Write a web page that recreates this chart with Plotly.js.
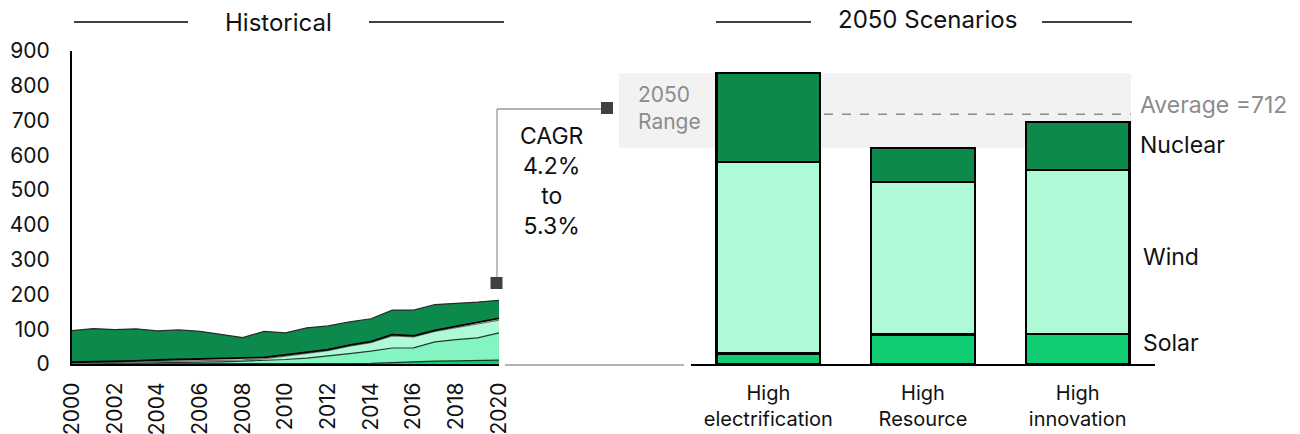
<!DOCTYPE html>
<html>
<head>
<meta charset="utf-8">
<script src="https://cdn.plot.ly/plotly-3.0.1.min.js"></script>
<style>
  html, body { margin: 0; padding: 0; background: #ffffff; }
  #chart { width: 1300px; height: 434px; }
</style>
</head>
<body>
<div id="chart"></div>
<script>
// Historical generation, stacked by source (2000-2020)
const years = [2000,2001,2002,2003,2004,2005,2006,2007,2008,2009,2010,2011,2012,2013,2014,2015,2016,2017,2018,2019,2020];
const histSolar   = [0,0,0,0,0,0,0,0,0,0,0,0,0,0.5,2,4,7,8,9,10,11];
const histWind    = [0.5,1,1.5,2,3,3.5,4.5,6,8,10,13,17,22.5,29.5,35,42,39.5,55.5,61,65,78.5];
const histOtherRe = [1.5,2,2.5,3,4,4.5,4.5,4,4,5,9.5,13,16,21,24,35,31.5,30.5,35.5,40,36.5];
const histOther   = [3,3,3.5,4,4.5,5,5,5,4.5,4,3.5,3,3,3,3.5,3.5,3,3,3,3,5];
const histNuclear = [91,96,91.5,92,83.5,85,80,69,59.5,75,63.5,71,68,67,65.5,70.5,74,74,65.5,60,52];
const yearTicks   = [2000,2002,2004,2006,2008,2010,2012,2014,2016,2018,2020];

// 2050 scenarios
const scenarios   = ['High<br>electrification', 'High<br>Resource', 'High<br>innovation'];
const solar2050   = [30, 84, 86];
const wind2050    = [546, 435, 468];
const nuclear2050 = [253, 98, 137];

const cagrLow = 4.2, cagrHigh = 5.3;

const totals2050 = scenarios.map((_, i) => solar2050[i] + wind2050[i] + nuclear2050[i]);
const avg2050 = totals2050.reduce((a, b) => a + b, 0) / totals2050.length;
const min2050 = Math.min(...totals2050);
const max2050 = Math.max(...totals2050);

// page geometry helpers (pixel -> paper)
const W = 1300, TOP = 51, BOT = 364;
const px = x => x / W;
const py = y => (BOT - y) / (BOT - TOP);

const C = {
  solar: '#10cc73',
  windHist: '#84f5c2',
  wind: '#aef9d6',
  other: '#ffffff',
  nuclear: '#0b8a4c',
  grey: '#8c8c8c',
  band: '#f2f2f2',
  marker: '#404040'
};

const FONT = 'Inter, "Noto Sans", "DejaVu Sans", sans-serif';

function area(name, y, fill, lineColor, lineWidth) {
  return {
    type: 'scatter', mode: 'lines', name: name,
    x: years, y: y, stackgroup: 'hist',
    fillcolor: fill,
    line: { color: lineColor, width: lineWidth, shape: 'linear' },
    xaxis: 'x', yaxis: 'y', hoverinfo: 'x+y+name', showlegend: false
  };
}

function bar(name, y, color) {
  return {
    type: 'bar', name: name, x: scenarios, y: y,
    marker: { color: color, line: { color: '#000000', width: 2.2 } },
    xaxis: 'x2', yaxis: 'y2', showlegend: false
  };
}

const data = [
  area('Solar', histSolar, C.solar, '#0a3d22', 1.2),
  area('Wind', histWind, C.windHist, '#1f3a2c', 1.2),
  area('Other renewables', histOtherRe, C.wind, '#6f6f6f', 1.2),
  area('Other', histOther, C.other, '#000000', 1.8),
  area('Nuclear', histNuclear, C.nuclear, '#2b2b2b', 1.2),
  bar('Solar', solar2050, C.solar),
  bar('Wind', wind2050, C.wind),
  bar('Nuclear', nuclear2050, C.nuclear)
];

function hline(x0, x1, y, color, width, dash) {
  return { type: 'line', xref: 'paper', yref: 'paper', x0: px(x0), x1: px(x1), y0: py(y), y1: py(y),
           line: { color: color, width: width, dash: dash || 'solid' } };
}
function vline(x, y0, y1, color, width) {
  return { type: 'line', xref: 'paper', yref: 'paper', x0: px(x), x1: px(x), y0: py(y0), y1: py(y1),
           line: { color: color, width: width } };
}
function square(cx, cy, s) {
  return { type: 'rect', xref: 'paper', yref: 'paper',
           x0: px(cx - s / 2), x1: px(cx + s / 2), y0: py(cy + s / 2), y1: py(cy - s / 2),
           fillcolor: C.marker, line: { width: 0 } };
}

const shapes = [
  // 2050 range band and average line (behind bars)
  { type: 'rect', xref: 'paper', yref: 'y2', x0: px(619), x1: px(1131), y0: min2050, y1: max2050,
    fillcolor: C.band, line: { width: 0 }, layer: 'below' },
  { type: 'line', xref: 'paper', yref: 'y2', x0: px(770), x1: px(1131), y0: avg2050, y1: avg2050,
    line: { color: C.grey, width: 1.5, dash: 'dash' }, layer: 'below' },
  // section header rules
  hline(74, 188, 22, '#000000', 1.3),
  hline(369, 504, 22, '#000000', 1.3),
  hline(716, 811, 22, '#000000', 1.3),
  hline(1042, 1132, 22, '#000000', 1.3),
  // CAGR connector
  vline(497, 283, 109, '#9a9a9a', 1.3),
  hline(497, 605, 109, '#9a9a9a', 1.3),
  square(496.5, 283, 12),
  square(607, 108, 12),
  // link between panels
  hline(505, 684, 365, '#9a9a9a', 1.3)
];

function label(text, x, y, opts) {
  return Object.assign({
    text: text, xref: 'paper', yref: 'paper', x: px(x), y: py(y),
    xanchor: 'center', yanchor: 'middle', showarrow: false,
    font: { family: FONT, size: 23, color: '#111111' }
  }, opts || {});
}

const annotations = [
  label('Historical', 278, 22, { font: { family: FONT, size: 24, color: '#111111' } }),
  label('2050 Scenarios', 927, 19, { font: { family: FONT, size: 24, color: '#111111' } }),
  label('CAGR<br>' + cagrLow.toFixed(1) + '%<br>to<br>' + cagrHigh.toFixed(1) + '%', 552, 181,
        { font: { family: FONT, size: 23, color: '#111111' } }),
  label('2050<br>Range', 636, 108,
        { xanchor: 'left', align: 'left', font: { family: FONT, size: 21, color: C.grey } }),
  label('Average =' + Math.round(avg2050), 1138, 105,
        { xanchor: 'left', font: { family: FONT, size: 23, color: C.grey } }),
  label('Nuclear', 1138, 145, { xanchor: 'left' }),
  label('Wind', 1141, 257, { xanchor: 'left' }),
  label('Solar', 1141, 343, { xanchor: 'left' })
];

const layout = {
  width: 1300, height: 434,
  margin: { l: 0, r: 0, t: TOP, b: 434 - BOT },
  paper_bgcolor: '#ffffff', plot_bgcolor: 'rgba(0,0,0,0)',
  font: { family: FONT, size: 20, color: '#111111' },
  showlegend: false,
  barmode: 'stack', bargap: 0.33,
  xaxis: {
    domain: [px(72), px(499)], range: [2000, 2020], anchor: 'y',
    tickvals: yearTicks, ticktext: yearTicks.map(String), tickangle: -90,
    ticks: '', ticklabelstandoff: 8,
    showline: true, linecolor: '#000000', linewidth: 2,
    showgrid: false, zeroline: false,
    tickfont: { family: FONT, size: 21, color: '#111111' }
  },
  yaxis: {
    domain: [0, 1], range: [0, 900], anchor: 'x', dtick: 100,
    ticks: '', ticklabelstandoff: 16,
    showline: true, linecolor: '#000000', linewidth: 2,
    showgrid: false, zeroline: false,
    tickfont: { family: FONT, size: 21, color: '#111111' }
  },
  xaxis2: {
    domain: [px(691), px(1155)], range: [-0.5, 2.5], anchor: 'y2', type: 'category',
    ticks: '', ticklabelstandoff: 10,
    showline: true, linecolor: '#000000', linewidth: 2,
    showgrid: false, zeroline: false,
    tickfont: { family: FONT, size: 20, color: '#111111' }
  },
  yaxis2: {
    domain: [0, 1], range: [0, 892.8], anchor: 'x2',
    visible: false, showgrid: false, zeroline: false
  },
  shapes: shapes,
  annotations: annotations
};

Plotly.newPlot('chart', data, layout, { staticPlot: true, displayModeBar: false });
</script>
</body>
</html>
